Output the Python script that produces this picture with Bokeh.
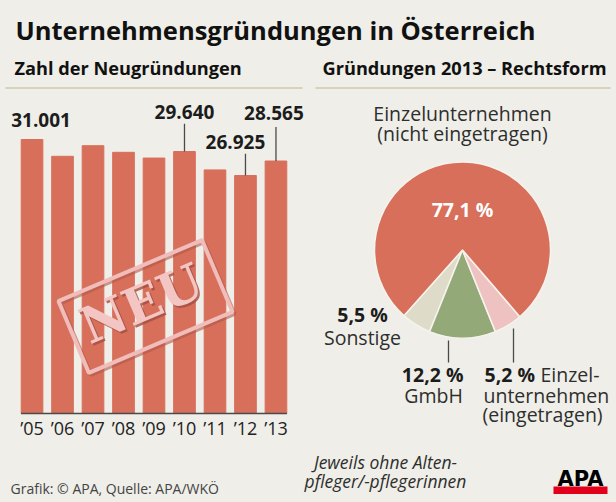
import numpy as np
from bokeh.plotting import figure
from bokeh.models import Range1d, FactorRange
from bokeh.layouts import column, row
from bokeh.core.properties import value
from bokeh.embed import file_html
from bokeh.resources import INLINE

# ---------------- data ----------------
years = ["’05", "’06", "’07", "’08", "’09", "’10", "’11", "’12", "’13"]
founds = [31001, 29100, 30300, 29550, 28900, 29640, 27560, 26925, 28565]
labelled_years = ["’05", "’10", "’12", "’13"]
labelled_values = [31001, 29640, 26925, 28565]

pie_categories = ["Sonstige", "GmbH", "Einzelunternehmen (eingetragen)",
                  "Einzelunternehmen (nicht eingetragen)"]
pie_shares = [5.5, 12.2, 5.2, 77.1]

# ---------------- style ----------------
BG = "#efeee8"
RED = "#d86f5b"
PIE_COLORS = ["#dedbc9", "#94a978", "#efc2c2", RED]
FONT = value("Open Sans")
DARK = "#1c1c1c"
TXT = "#2e2e2e"
SHIFT = 0.39  # svg text sits ~0.39em lower than the alphabetic baseline asked


def bl(y, size):
    """position so that the visible baseline lands at y (image px)"""
    return y - SHIFT * size


def canvas(w, h, xr, yr):
    f = figure(width=w, height=h, x_range=xr, y_range=yr, output_backend="svg",
               toolbar_location=None, min_border=0, background_fill_color=BG,
               border_fill_color=BG, outline_line_color=None,
               x_axis_location=None, y_axis_location=None)
    f.xgrid.visible = False
    f.ygrid.visible = False
    return f


# ---------------- header ----------------
head = canvas(616, 90, Range1d(0, 616), Range1d(90, 0))
head.text(x=[15], y=[bl(39.5, 25.5)], text=["Unternehmensgründungen in Österreich"],
          text_font=FONT, text_font_style="bold", text_font_size="25.5px",
          text_color="#111111", text_baseline="alphabetic")
head.text(x=[14, 322], y=[bl(75, 18.2)] * 2,
          text=["Zahl der Neugründungen", "Gründungen 2013 – Rechtsform"],
          text_font=FONT, text_font_style="bold", text_font_size="18.2px",
          text_color="#111111", text_baseline="alphabetic")
head.segment(x0=[5, 315], y0=[87.5, 87.5], x1=[302, 610], y1=[87.5, 87.5],
             line_color="#d9d2ba", line_width=2)

# ---------------- bars ----------------
PITCH = 30.5
PAD = 0.534
BAR_W = 9 * PITCH + 2 * PAD * PITCH  # frame width in px
ypp = 31001 / 274.0                   # data units per pixel
Y_TOP = (413 - 90) * ypp
Y_BOT = -(449 - 413) * ypp

bars = figure(width=int(round(BAR_W)), height=359,
              x_range=FactorRange(factors=years, range_padding=PAD,
                                  range_padding_units="absolute"),
              y_range=Range1d(Y_BOT, Y_TOP), output_backend="svg",
              toolbar_location=None, min_border=0,
              background_fill_color=BG, border_fill_color=BG,
              outline_line_color=None, x_axis_location=None,
              y_axis_location=None)
bars.xgrid.visible = False
bars.ygrid.visible = False
bars.vbar(x=years, top=founds, width=0.71, bottom=0, color=RED)

# baseline and year labels
n = len(years)
bars.segment(x0=[0.5 - 0.36], y0=[0], x1=[n - 0.5 + 0.36], y1=[0],
             line_color="#4a4a4a", line_width=1.5)
bars.text(x=years, y=[0] * n, text=years, y_offset=22 - SHIFT * 18,
          text_font=FONT, text_font_size="18px", text_color="#222222",
          text_align="center", text_baseline="alphabetic")

# value labels with leader lines
lab_dx = [9, 0, -10, -2]
lab_dy = [-12, -31.7, -25.7, -41]
lead_px = [0, 27.7, 21.7, 34]
bars.text(x=labelled_years, y=labelled_values,
          text=[f"{v:,}".replace(",", ".") for v in labelled_values],
          x_offset=lab_dx, y_offset=[d - SHIFT * 19 for d in lab_dy],
          text_font=FONT, text_font_style="bold", text_font_size="19px",
          text_color=DARK, text_align="center", text_baseline="alphabetic")
lv = labelled_values[1:]
bars.segment(x0=labelled_years[1:], y0=lv, x1=labelled_years[1:],
             y1=[v + p * ypp for v, p in zip(lv, lead_px[1:])],
             line_color="#4a4a4a", line_width=1.3)

# "NEU" stamp
def sx(px):
    return px / PITCH - PAD
def sy(py):
    return (413 - py) * ypp

ang = np.radians(23)
bars.rect(x=[sx(147)], y=[sy(308)], width=156, height=78, angle=ang,
          width_units="screen", height_units="screen", fill_color=None,
          line_color="#b0584a", line_width=4, line_alpha=0.6)
bars.rect(x=[sx(145)], y=[sy(306)], width=156, height=78, angle=ang,
          width_units="screen", height_units="screen", fill_color=None,
          line_color="#f0bdbb", line_width=4)
bars.text(x=[sx(143)], y=[sy(305)], text=["NEU"], angle=ang,
          text_font=value("DejaVu Serif"), text_font_style="bold",
          text_font_size="50px", text_color="#a44e3f", text_alpha=0.8,
          text_align="center", text_baseline="middle")
bars.text(x=[sx(141)], y=[sy(303)], text=["NEU"], angle=ang,
          text_font=value("DejaVu Serif"), text_font_style="bold",
          text_font_size="50px", text_color="#f3c6c4",
          text_align="center", text_baseline="middle")

# ---------------- pie ----------------
PIE_X0 = int(round(BAR_W))
pie = canvas(616 - PIE_X0, 359, Range1d(PIE_X0, 616), Range1d(449, 90))
shares = np.array(pie_shares) / 100.0
start0 = np.radians(270) - np.pi * 2 * (shares[0] + shares[1] / 2)
ends = start0 + np.cumsum(shares) * 2 * np.pi
starts = np.concatenate([[start0], ends[:-1]])
pie.wedge(x=462, y=249.5, radius=88, radius_units="screen",
          start_angle=list(starts), end_angle=list(ends),
          fill_color=PIE_COLORS, line_color="#f6f3ec", line_width=1.5)

S = 19.5
pct = [f"{s:.1f} %".replace(".", ",") for s in pie_shares]
pie.text(x=[462, 462], y=[bl(121, S), bl(141, S)],
         text=["Einzelunternehmen", "(nicht eingetragen)"],
         text_font=FONT, text_font_size=f"{S}px", text_color=TXT,
         text_align="center", text_baseline="alphabetic")
pie.text(x=[462], y=[bl(217, S)], text=[pct[3]],
         text_font=FONT, text_font_style="bold", text_font_size=f"{S}px",
         text_color="white", text_align="center", text_baseline="alphabetic")
pie.text(x=[362], y=[bl(322, S)], text=[pct[0]],
         text_font=FONT, text_font_style="bold", text_font_size=f"{S}px",
         text_color=DARK, text_align="center", text_baseline="alphabetic")
pie.text(x=[362], y=[bl(345, S)], text=["Sonstige"], text_font=FONT,
         text_font_size=f"{S}px", text_color=TXT, text_align="center",
         text_baseline="alphabetic")
pie.segment(x0=[448, 513], y0=[340, 328], x1=[448, 513], y1=[362, 362],
            line_color="#4a4a4a", line_width=1.3)
pie.text(x=[463], y=[bl(382, S)], text=[pct[1]],
         text_font=FONT, text_font_style="bold", text_font_size=f"{S}px",
         text_color=DARK, text_align="right", text_baseline="alphabetic")
pie.text(x=[433], y=[bl(403, S)], text=["GmbH"], text_font=FONT,
         text_font_size=f"{S}px", text_color=TXT, text_align="center",
         text_baseline="alphabetic")
pie.text(x=[484], y=[bl(382, S)], text=[pct[2]],
         text_font=FONT, text_font_style="bold", text_font_size=f"{S}px",
         text_color=DARK, text_align="left", text_baseline="alphabetic")
pie.text(x=[540, 483, 482], y=[bl(382, S), bl(403, S), bl(422, S)],
         text=["Einzel-", "unternehmen", "(eingetragen)"], text_font=FONT,
         text_font_size=f"{S}px", text_color=TXT, text_align="left",
         text_baseline="alphabetic")

# ---------------- footer ----------------
foot = canvas(616, 53, Range1d(0, 616), Range1d(502, 449))
foot.text(x=[10], y=[bl(493, 14)], text=["Grafik: © APA, Quelle: APA/WKÖ"],
          text_font=FONT, text_font_size="14px", text_color="#444444",
          text_baseline="alphabetic")
foot.text(x=[385, 385], y=[bl(468, 17.5), bl(487, 17.5)],
          text=["Jeweils ohne Alten-", "pfleger/-pflegerinnen"],
          text_font=FONT, text_font_style="italic", text_font_size="17.5px",
          text_color=TXT, text_align="center", text_baseline="alphabetic")
foot.quad(left=[553], right=[607], top=[486], bottom=[493.5],
          fill_color="#e2001a", line_color=None)
foot.text(x=[580], y=[bl(487, 21)], text=["APA"], text_font=value("DejaVu Sans"),
          text_font_style="bold", text_font_size="21px", text_color="black",
          text_align="center", text_baseline="alphabetic")

layout = column(head, row(bars, pie), foot)

tmpl = ("{% block postamble %}<style>html,body{margin:0;padding:0;background:"
        + BG + ";}</style>{% endblock %}")
open("out.html", "w").write(file_html(layout, INLINE, template=tmpl))
